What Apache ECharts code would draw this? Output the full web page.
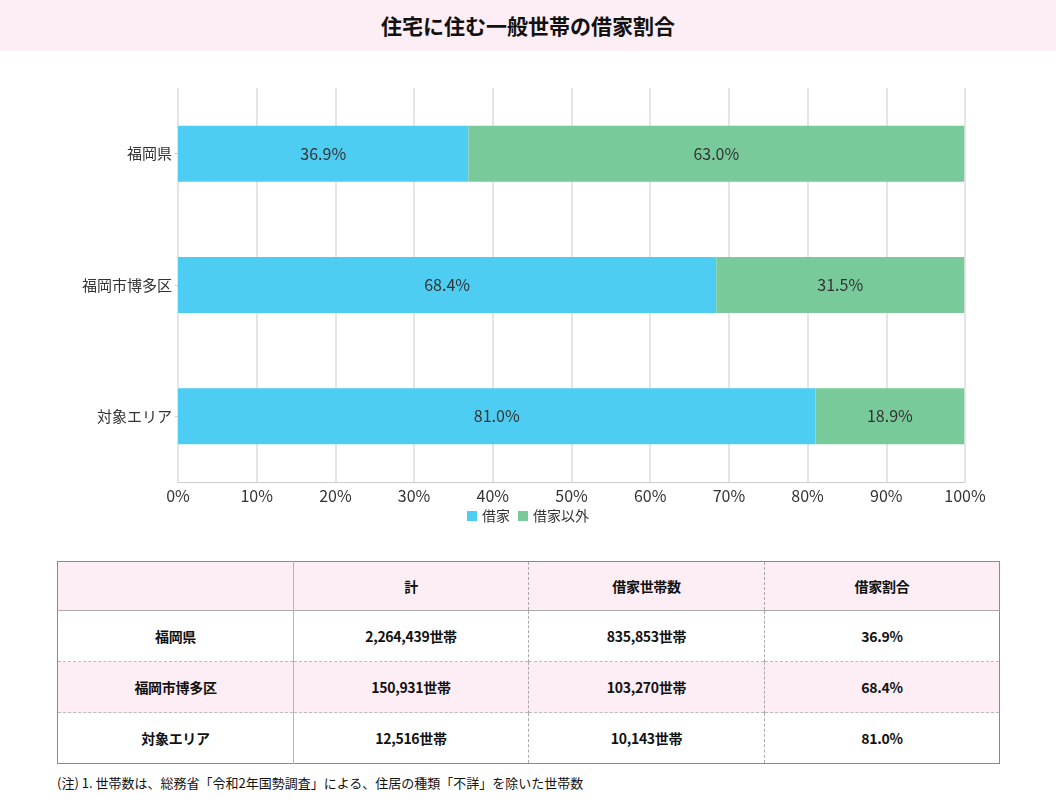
<!DOCTYPE html>
<html>
<head>
<meta charset="utf-8">
<script src="https://cdn.jsdelivr.net/npm/echarts@6/dist/echarts.min.js"></script>
<style>
  body { margin: 0; background: #fff; font-family: "Noto Sans CJK JP", sans-serif; }
  #wrap { position: relative; width: 1056px; height: 806px; }
  #title { position: absolute; left: 0; top: 0; width: 1056px; height: 51px; background: #fdedf4;
           text-align: center; line-height: 50px; font-size: 21px; font-weight: bold; color: #111; }
  #main { position: absolute; left: 0; top: 51px; width: 1056px; height: 490px; }
  #tbl { position: absolute; left: 57px; top: 561px; width: 942px; border-collapse: collapse; table-layout: fixed;
         border: 1px solid #8a8a8a; font-size: 14px; font-weight: bold; color: #111; letter-spacing: -0.3px; }
  #tbl td { text-align: center; height: 50px; padding: 0; border-left: 1px dashed #aaa; border-top: 1px dashed #bbb; }
  #tbl td:first-child { border-left: none; }
  #tbl td:nth-child(2) { border-left: 1px solid #b5b5b5; }
  #tbl tr.head td { height: 48px; background: #fdedf4; border-top: none; }
  #tbl tr.r1 td { border-top: 1px solid #aaa; }
  #tbl tr.pink td { background: #fdedf4; }
  #note { position: absolute; left: 57px; top: 773px; font-size: 13px; color: #111; }
</style>
</head>
<body>
<div id="wrap">
  <div id="title">住宅に住む一般世帯の借家割合</div>
  <div id="main"></div>
  <table id="tbl">
    <colgroup><col style="width:236px"><col style="width:235px"><col style="width:236px"><col style="width:235px"></colgroup>
    <tbody id="tbody"></tbody>
  </table>
  <div id="note">(注) 1. 世帯数は、総務省「令和2年国勢調査」による、住居の種類「不詳」を除いた世帯数</div>
</div>
<script>
var areas = ['福岡県', '福岡市博多区', '対象エリア'];
var rentShare = [36.9, 68.4, 81.0];
var otherShare = [63.0, 31.5, 18.9];
var totalHouseholds = ['2,264,439世帯', '150,931世帯', '12,516世帯'];
var rentHouseholds = ['835,853世帯', '103,270世帯', '10,143世帯'];
var tableHead = ['', '計', '借家世帯数', '借家割合'];

(function () {
    var myChart = echarts.init(document.getElementById('main'));
    var lbl = {
        show: true,
        position: 'inside',
        color: '#333',
        fontSize: 16,
        formatter: function (p) { return p.value.toFixed(1) + '%'; }
    };
    var option = {
        animation: false,
        textStyle: { fontFamily: '"Noto Sans CJK JP", sans-serif' },
        grid: { left: 178, right: 91, top: 37, bottom: 59, containLabel: false },
        legend: {
            bottom: 13,
            left: 'center',
            itemWidth: 10,
            itemHeight: 10,
            itemGap: 8,
            icon: 'rect',
            textStyle: { fontSize: 14, color: '#333' },
            data: ['借家', '借家以外']
        },
        xAxis: {
            type: 'value',
            min: 0,
            max: 100,
            interval: 10,
            axisLabel: { formatter: '{value}%', fontSize: 16, color: '#333', margin: 6 },
            axisLine: { show: true, lineStyle: { color: '#ccc' } },
            axisTick: { show: false },
            splitLine: { lineStyle: { color: '#ddd', width: 1.5 } }
        },
        yAxis: {
            type: 'category',
            inverse: true,
            data: areas,
            axisLabel: { fontSize: 15, color: '#333', margin: 6 },
            axisLine: { show: false },
            axisTick: { show: true, alignWithLabel: true, length: 3, lineStyle: { color: '#ccc' } }
        },
        series: [
            {
                name: '借家',
                type: 'bar',
                stack: 'a',
                barWidth: 56,
                itemStyle: { color: '#4ecdf3' },
                label: lbl,
                data: rentShare
            },
            {
                name: '借家以外',
                type: 'bar',
                stack: 'a',
                barWidth: 56,
                itemStyle: { color: '#79ca9a' },
                label: lbl,
                data: otherShare
            }
        ]
    };
    myChart.setOption(option);

    // table below the chart
    var rows = [tableHead];
    for (var i = 0; i < areas.length; i++) {
        rows.push([areas[i], totalHouseholds[i], rentHouseholds[i], rentShare[i].toFixed(1) + '%']);
    }
    var html = '';
    rows.forEach(function (r, i) {
        var cls = i === 0 ? 'head' : (i === 1 ? 'r1' : (i === 2 ? 'pink' : ''));
        html += '<tr class="' + cls + '">' + r.map(function (c) { return '<td>' + c + '</td>'; }).join('') + '</tr>';
    });
    document.getElementById('tbody').innerHTML = html;
})();
</script>
</body>
</html>
